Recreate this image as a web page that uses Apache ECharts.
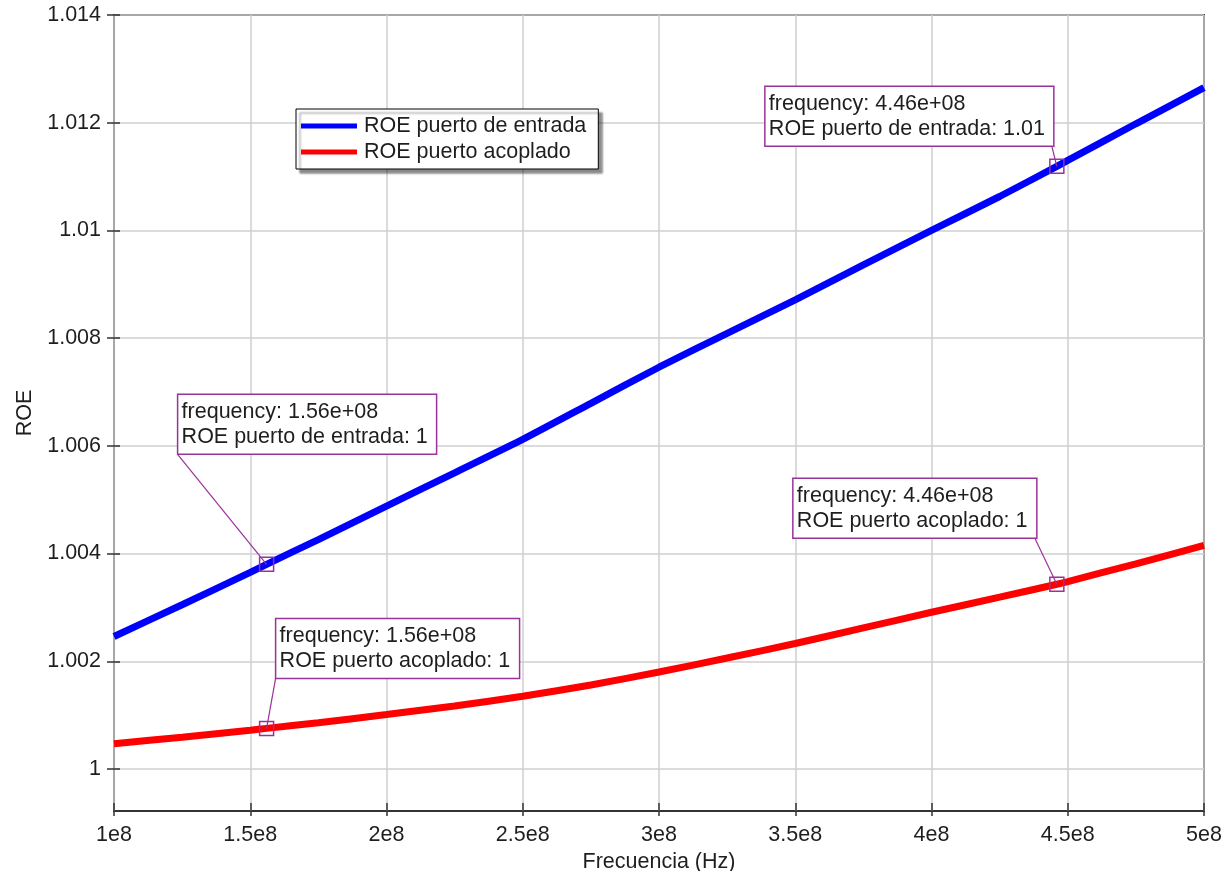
<!DOCTYPE html>
<html><head><meta charset="utf-8">
<script src="https://cdn.jsdelivr.net/npm/echarts@6/dist/echarts.min.js"></script>
<style>html,body{margin:0;padding:0;background:#fff}#c{width:1226px;height:871px}</style>
</head><body><div id="c"></div>
<script>
// ---- data ----
const frequency   = [1.0e8, 1.25e8, 1.5e8, 1.56e8, 1.75e8, 2.0e8, 2.25e8, 2.5e8, 2.75e8, 3.0e8, 3.25e8, 3.5e8, 3.75e8, 4.0e8, 4.25e8, 4.46e8, 4.5e8, 4.75e8, 5.0e8];
const roeEntrada  = [1.00246, 1.00305, 1.00365, 1.00380, 1.00426, 1.00488, 1.00550, 1.00612, 1.00679, 1.00746, 1.00809, 1.00871, 1.00936, 1.01000, 1.01063, 1.01119, 1.01130, 1.01198, 1.01265];
const roeAcoplado = [1.00047, 1.00059, 1.00072, 1.000754, 1.00086, 1.00101, 1.00117, 1.00135, 1.00156, 1.00180, 1.00206, 1.00233, 1.00262, 1.00291, 1.00319, 1.00343, 1.00348, 1.00381, 1.00415];
const seriesNames = ['ROE puerto de entrada', 'ROE puerto acoplado'];
const xTicks = [1e8, 1.5e8, 2e8, 2.5e8, 3e8, 3.5e8, 4e8, 4.5e8, 5e8];
const yTicks = [1, 1.002, 1.004, 1.006, 1.008, 1.01, 1.012, 1.014];

// ---- layout of annotation boxes (pixel offsets of box top-left from point) ----
const annotLayout = [
  {series: 0, freq: 4.46e8, dx: -292, dy: -80,  corner: 'br'},
  {series: 0, freq: 1.56e8, dx: -89,  dy: -170, corner: 'bl'},
  {series: 1, freq: 1.56e8, dx: 9,    dy: -110, corner: 'bl'},
  {series: 1, freq: 4.46e8, dx: -264, dy: -106, corner: 'br'}
];

const FONT = '"Liberation Sans", Arial, sans-serif';
const FS = 21.5;
const TXT = '#1e1e1e';
const PURPLE = '#993399';

const chart = echarts.init(document.getElementById('c'), null, {renderer: 'canvas'});

function fmtY(v) { return String(Number(v.toFixed(3))); }
function fmtX(v) { return String(Number((v / 1e8).toFixed(2))) + 'e8'; }

const option = {
  animation: false,
  backgroundColor: '#fff',
  textStyle: {fontFamily: FONT},
  grid: {left: 114, right: 22, top: 15, bottom: 60, containLabel: false, outerBoundsMode: 'none',
         show: true, borderColor: '#333', borderWidth: 2, backgroundColor: 'transparent'},
  legend: {
    orient: 'vertical', left: 296, top: 109,
    data: seriesNames,
    icon: 'rect', itemWidth: 56, itemHeight: 5, itemGap: 4,
    padding: [6, 12, 6, 5],
    backgroundColor: '#fff', borderColor: '#000', borderWidth: 1,
    shadowColor: 'rgba(0,0,0,0.45)', shadowBlur: 2, shadowOffsetX: 4, shadowOffsetY: 4,
    textStyle: {fontFamily: FONT, fontSize: FS, color: TXT, padding: [0, 0, 0, 2]},
    selectedMode: false
  },
  xAxis: {
    type: 'value', min: 1e8, max: 5e8, interval: 0.5e8,
    offset: 5,
    name: 'Frecuencia (Hz)', nameLocation: 'middle', nameGap: 32,
    nameTextStyle: {fontFamily: FONT, fontSize: FS, color: TXT},
    axisLine: {show: false},
    axisTick: {show: true, inside: true, length: 13, lineStyle: {color: '#333', width: 1.5}},
    axisLabel: {formatter: fmtX, fontFamily: FONT, fontSize: FS, color: TXT, margin: 8, showMaxLabel: true, showMinLabel: true},
    splitLine: {show: true, lineStyle: {color: '#cfcfcf', width: 1.5}}
  },
  yAxis: {
    type: 'value', min: 0.99922, max: 1.014,
    offset: 7,
    name: 'ROE', nameLocation: 'middle', nameGap: 71, nameRotate: 90,
    nameTextStyle: {fontFamily: FONT, fontSize: FS, color: TXT},
    axisLine: {show: false},
    axisTick: {show: true, inside: true, length: 13, customValues: yTicks, lineStyle: {color: '#333', width: 1.5}},
    axisLabel: {formatter: fmtY, customValues: yTicks, fontFamily: FONT, fontSize: FS, color: TXT, margin: 6},
    splitLine: {show: true, lineStyle: {color: '#cfcfcf', width: 1.5}}
  },
  series: [
    {name: seriesNames[0], type: 'line', color: '#0000ff', showSymbol: false, symbol: 'none', smooth: 0.2,
     lineStyle: {width: 7, color: '#0000ff'}, data: frequency.map((f, i) => [f, roeEntrada[i]]), z: 3},
    {name: seriesNames[1], type: 'line', color: '#ff0000', showSymbol: false, symbol: 'none', smooth: 0.2,
     lineStyle: {width: 7, color: '#ff0000'}, data: frequency.map((f, i) => [f, roeAcoplado[i]]), z: 3}
  ]
};
chart.setOption(option);

// ---- annotations ----
const mctx = document.createElement('canvas').getContext('2d');
mctx.font = FS + 'px ' + FONT;
function fmtFreq(f) {
  const s = f.toExponential(2); // e.g. 4.46e+8
  const m = s.split('e');
  const sign = m[1][0];
  let ex = m[1].slice(1);
  if (ex.length < 2) ex = '0' + ex;
  return m[0] + 'e' + sign + ex;
}
const seriesValues = [roeEntrada, roeAcoplado];
const graphics = [];
annotLayout.forEach(a => {
  const idx = frequency.indexOf(a.freq);
  const val = seriesValues[a.series][idx];
  const p = chart.convertToPixel({gridIndex: 0}, [a.freq, val]);
  const lines = ['frequency: ' + fmtFreq(a.freq), seriesNames[a.series] + ': ' + String(Number(val.toPrecision(3)))];
  const tw = Math.max(...lines.map(l => mctx.measureText(l).width));
  const bx = p[0] + a.dx, by = p[1] + a.dy;
  const bw = Math.round(tw + 13), bh = 60;
  const cx = a.corner === 'br' ? bx + bw - 2 : bx;
  const cy = by + bh;
  graphics.push({type: 'line', z: 100, silent: true, shape: {x1: cx, y1: cy, x2: p[0], y2: p[1]}, style: {stroke: PURPLE, lineWidth: 1.2}});
  graphics.push({type: 'rect', z: 101, silent: true, shape: {x: bx, y: by, width: bw, height: bh}, style: {fill: '#fff', stroke: PURPLE, lineWidth: 1.5}});
  graphics.push({type: 'text', z: 102, silent: true, x: bx + 4, y: by + 5,
    style: {text: lines.join('\n'), font: FS + 'px ' + FONT, fill: TXT, lineHeight: 25, verticalAlign: 'top', align: 'left'}});
  graphics.push({type: 'rect', z: 103, silent: true, shape: {x: p[0] - 7, y: p[1] - 7, width: 14, height: 14}, style: {fill: null, stroke: PURPLE, lineWidth: 1.5}});
});
chart.setOption({graphic: graphics});
</script>
</body></html>
